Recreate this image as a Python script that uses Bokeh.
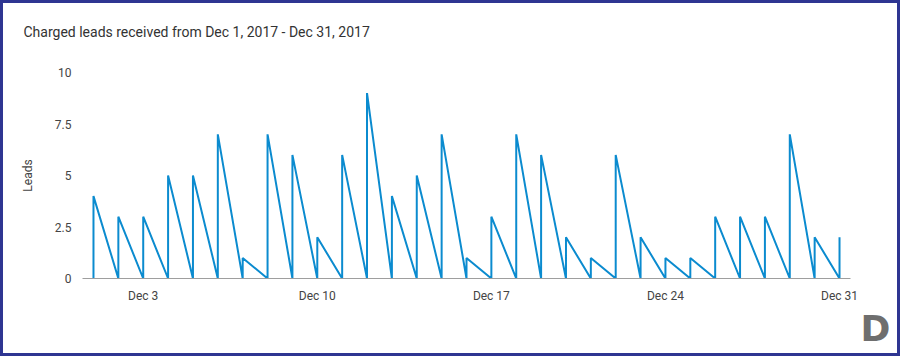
from datetime import datetime, timedelta
from bokeh.plotting import figure
from bokeh.models import (Range1d, FixedTicker, DatetimeTickFormatter, Title)
from bokeh.embed import file_html
from bokeh.resources import INLINE

title_text = "Charged leads received from Dec 1, 2017 - Dec 31, 2017"
start_day = datetime(2017, 12, 1)
leads = [4, 3, 3, 5, 5, 7, 1, 7, 6, 2, 6, 9, 4, 5, 7, 1, 3, 7, 6, 2, 1, 6, 2, 1, 1, 3, 3, 3, 7, 2, 2]
days = [start_day + timedelta(days=i) for i in range(len(leads))]
x_tick_days = [datetime(2017, 12, d) for d in (3, 10, 17, 24, 31)]
y_ticks = [0, 2.5, 5, 7.5, 10]
y_tick_labels = ["0", "2.5", "5", "7.5", "10"]

# sawtooth: each day rises from 0 to its value, then falls to 0 at the next day
xs, ys = [], []
for d, v in zip(days, leads):
    xs += [d, d]
    ys += [0, v]

FONT = "Roboto"
BLUE = "#0b8bcf"

pad = timedelta(hours=10.6)
p = figure(width=900, height=356, output_backend="svg", toolbar_location=None,
           x_axis_type="datetime",
           x_range=Range1d(days[0] - pad, days[-1] + pad),
           y_range=Range1d(0, 10),
           min_border_left=79, min_border_right=53,
           min_border_top=69, min_border_bottom=81)
p.styles = {"border": "3px solid #2e3592", "box-sizing": "border-box"}

p.line(xs, ys, line_color=BLUE, line_width=2)

p.grid.visible = False
p.outline_line_color = None

xa = p.xaxis[0]
xa.ticker = FixedTicker(ticks=[d.timestamp() * 1000 for d in x_tick_days])
xa.formatter = DatetimeTickFormatter(days="%b %-d", months="%b %-d")
xa.axis_line_color = "#9e9e9e"
xa.major_tick_line_color = None
xa.minor_tick_line_color = None
xa.major_label_text_font = FONT
xa.major_label_text_font_size = "12px"
xa.major_label_text_color = "#444444"
xa.major_label_standoff = 4

ya = p.yaxis[0]
ya.ticker = FixedTicker(ticks=y_ticks)
ya.major_label_overrides = {t: l for t, l in zip(y_ticks, y_tick_labels)}
ya.axis_line_color = None
ya.major_tick_line_color = None
ya.minor_tick_line_color = None
ya.major_label_text_font = FONT
ya.major_label_text_font_size = "12px"
ya.major_label_text_color = "#444444"
ya.major_label_standoff = 5
ya.axis_label = "Leads"
ya.axis_label_text_font = FONT
ya.axis_label_text_font_size = "12px"
ya.axis_label_text_font_style = "normal"
ya.axis_label_text_color = "#444444"
ya.axis_label_standoff = 17

p.title.text = ""
p.title.visible = False

spacer = Title(text=" ", standoff=10, text_font=FONT, text_font_size="14px")
p.add_layout(spacer, "above")
main_title = Title(text=title_text, align="left", offset=-59, standoff=10,
                   text_font=FONT, text_font_size="14px", text_font_style="normal",
                   text_color="#333333")
p.add_layout(main_title, "above")

logo = Title(text="D", align="right", offset=-40, standoff=0,
             text_font="DejaVu Sans", text_font_size="36px", text_font_style="bold",
             text_color="#6e6e6e")
p.add_layout(logo, "below")

open("out.html", "w").write(file_html(p, INLINE))
